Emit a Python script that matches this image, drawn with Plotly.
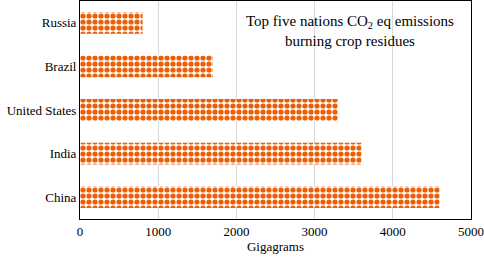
import plotly.graph_objects as go

countries = ["China", "India", "United States", "Brazil", "Russia"]
emissions = [4600, 3600, 3300, 1700, 800]
x_ticks = [0, 1000, 2000, 3000, 4000, 5000]

SERIF = "Times New Roman, Liberation Serif, serif"

fig = go.Figure()
fig.add_trace(go.Bar(
    y=countries, x=emissions, orientation="h", width=0.5,
    marker=dict(color="white", line=dict(width=0),
                pattern=dict(shape=".", fgcolor="#e8600a", bgcolor="white",
                             size=6, solidity=0.6, fillmode="replace")),
))
fig.add_annotation(text="Top five nations CO<sub>2</sub> eq emissions<br>burning crop residues",
                   xref="paper", yref="paper", x=0.69, y=0.955, xanchor="center", yanchor="top",
                   showarrow=False, font=dict(family=SERIF, size=15, color="black"))
fig.update_layout(
    width=484, height=261, margin=dict(l=80, r=13, t=1, b=42),
    paper_bgcolor="white", plot_bgcolor="white", showlegend=False,
    font=dict(family=SERIF, size=13, color="black"),
    xaxis=dict(range=[0, 5000], tickvals=x_ticks, showgrid=True, gridcolor="#d9d9d9",
               showline=True, linecolor="black", mirror=True, zeroline=False,
               ticks="", automargin=False, tickfont=dict(family=SERIF, size=13),
               title=dict(text="Gigagrams", standoff=2, font=dict(family=SERIF, size=13))),
    yaxis=dict(showline=True, linecolor="black", mirror=True, ticks="", range=[-0.5, 4.5],
               automargin=False, tickfont=dict(family=SERIF, size=13)),
)
fig.write_html("out.html", config={"displayModeBar": False},
               post_script="document.body.style.margin='0';")
